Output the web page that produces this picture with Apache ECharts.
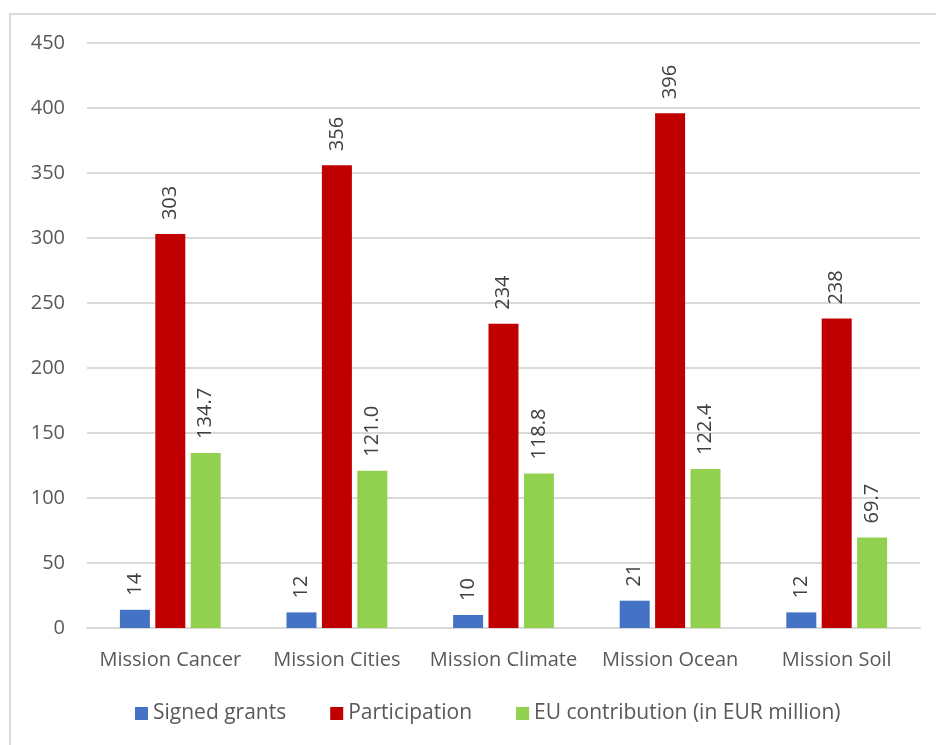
<!DOCTYPE html>
<html>
<head>
<meta charset="utf-8">
<script src="https://cdn.jsdelivr.net/npm/echarts@6/dist/echarts.min.js"></script>
<style>
html,body{margin:0;padding:0;background:#fff;}
#frame{position:absolute;left:9px;top:13px;width:940px;height:760px;border-left:2px solid #d9d9d9;border-top:2px solid #d9d9d9;}
#chart{position:absolute;left:0;top:0;width:936px;height:745px;}
</style>
</head>
<body>
<div id="frame"></div>
<div id="chart"></div>
<script>
const categories = ['Mission Cancer', 'Mission Cities', 'Mission Climate', 'Mission Ocean', 'Mission Soil'];
const signedGrants = [14, 12, 10, 21, 12];
const participation = [303, 356, 234, 396, 238];
const euContribution = [134.7, 121.0, 118.8, 122.4, 69.7];

const FONT = '"Open Sans", "Noto Sans", sans-serif';
const chart = echarts.init(document.getElementById('chart'));
function lbl(decimals){
  return {
    show: true, position: 'top', rotate: 90, align: 'left', verticalAlign: 'middle',
    distance: 14, color: '#404040', fontSize: 20, fontFamily: FONT,
    formatter: p => decimals ? p.value.toFixed(1) : String(p.value)
  };
}
chart.setOption({
  animation: false,
  grid: { left: 87, right: 16, top: 43, bottom: 117 },
  legend: {
    left: 130, bottom: 16, itemWidth: 13, itemHeight: 13, itemGap: 44,
    icon: 'rect',
    textStyle: { color: '#595959', fontSize: 21, fontFamily: FONT },
    data: ['Signed grants', 'Participation', 'EU contribution (in EUR million)']
  },
  xAxis: {
    type: 'category', data: categories,
    axisLine: { lineStyle: { color: '#d9d9d9', width: 2 } },
    axisTick: { show: false },
    axisLabel: { color: '#595959', fontSize: 20, fontFamily: FONT, margin: 22, interval: 0 }
  },
  yAxis: {
    type: 'value', min: 0, max: 450, interval: 50,
    axisLine: { show: false }, axisTick: { show: false },
    splitLine: { lineStyle: { color: '#d9d9d9', width: 2 } },
    axisLabel: { color: '#595959', fontSize: 20, fontFamily: FONT, margin: 22 }
  },
  series: [
    { name: 'Signed grants', type: 'bar', data: signedGrants, barWidth: 30, barGap: '18%', itemStyle: { color: '#4472C4' }, label: lbl(false) },
    { name: 'Participation', type: 'bar', data: participation, barWidth: 30, barGap: '18%', itemStyle: { color: '#C00000' }, label: lbl(false) },
    { name: 'EU contribution (in EUR million)', type: 'bar', data: euContribution, barWidth: 30, barGap: '18%', itemStyle: { color: '#92D050' }, label: lbl(true) }
  ]
});
</script>
</body>
</html>
